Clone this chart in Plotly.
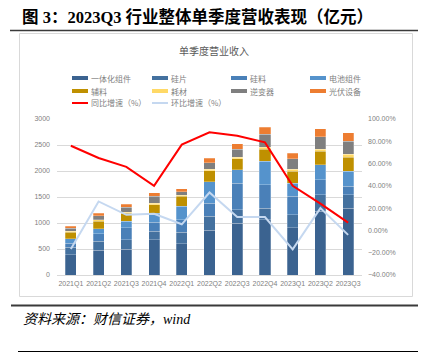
import plotly.graph_objects as go

categories = ["2021Q1", "2021Q2", "2021Q3", "2021Q4", "2022Q1", "2022Q2",
              "2022Q3", "2022Q4", "2023Q1", "2023Q2", "2023Q3"]

yitihua = [390, 473, 500, 679, 602, 858, 1000, 1063, 904, 1223, 1288]
guipian = [148, 173, 179, 160, 218, 269, 256, 225, 256, 321, 256]
guiliao = [77, 148, 225, 173, 243, 257, 513, 449, 352, 289, 160]
dianchi = [83, 96, 127, 180, 257, 410, 256, 448, 257, 288, 288]
fuliao = [122, 148, 161, 160, 192, 212, 206, 238, 223, 256, 270]
haocai = [26, 25, 19, 32, 26, 32, 31, 38, 46, 46, 65]
nibian = [50, 77, 89, 128, 64, 116, 161, 250, 193, 231, 243]
guangfu = [46, 52, 65, 71, 58, 96, 102, 135, 115, 154, 161]

yoy = [0.76, 0.65, 0.57, 0.40, 0.77, 0.88, 0.85, 0.79, 0.40, 0.24, 0.07]
qoq = [-0.167, 0.26, 0.14, 0.15, 0.055, 0.34, 0.12, 0.12, -0.17, 0.20, -0.04]

bar_names = ["一体化组件", "硅片", "硅料", "电池组件", "辅料", "耗材", "逆变器", "光伏设备"]
bar_values = [yitihua, guipian, guiliao, dianchi, fuliao, haocai, nibian, guangfu]
bar_colors = ["#3b6390", "#44719f", "#4a80b8", "#5593cc",
              "#bf9000", "#ffd966", "#7f7f7f", "#ed7d31"]
line_names = ["同比增速（%）", "环比增速（%）"]
line_colors = ["#ff0000", "#c5d8f0"]

W, H = 428, 353
L, R, T, B = 57, 66, 119, 78
fig = go.Figure()
for name, vals, col in zip(bar_names, bar_values, bar_colors):
    fig.add_trace(go.Bar(x=categories, y=vals, name=name, marker_color=col,
                         marker_line_color="rgba(255,255,255,0.5)", marker_line_width=0.5))
for name, vals, col in zip(line_names, [yoy, qoq], line_colors):
    fig.add_trace(go.Scatter(x=categories, y=vals, name=name, mode="lines",
                             line=dict(color=col, width=2), yaxis="y2"))

tick_font = dict(family="Liberation Sans, Noto Sans CJK SC", size=7, color="#7f7f7f")
fig.update_layout(
    width=W, height=H,
    margin=dict(l=L, r=R, t=T, b=B),
    paper_bgcolor="white", plot_bgcolor="white",
    barmode="stack", bargap=0.6,
    showlegend=False,
    xaxis=dict(tickfont=tick_font, showgrid=False, linecolor="#d9d9d9", showline=True,
               ticks="", tickangle=0, ticklabelstandoff=2),
    yaxis=dict(range=[0, 3000], dtick=500, tickfont=tick_font, showgrid=True,
               gridcolor="#d9d9d9", gridwidth=1, zeroline=False, ticks="", showline=False,
               ticklabelstandoff=6),
    yaxis2=dict(range=[-0.4, 1.0], dtick=0.2, tickformat=".2%", overlaying="y", side="right",
                tickfont=tick_font, showgrid=False, zeroline=False, ticks="", showline=False,
                ticklabelstandoff=5),
)

def px(x): return (x - L) / (W - L - R)
def py(y): return (H - B - y) / (H - B - T)

shapes = [
    dict(type="line", xref="paper", yref="paper", x0=px(10), x1=px(418), y0=py(30.5), y1=py(30.5),
         line=dict(color="#3a3a3a", width=1.5)),
    dict(type="rect", xref="paper", yref="paper", x0=px(19.5), x1=px(412.5), y0=py(33.5), y1=py(296.5),
         line=dict(color="#d9d9d9", width=1)),
    dict(type="line", xref="paper", yref="paper", x0=px(11), x1=px(418), y0=py(305.5), y1=py(305.5),
         line=dict(color="#3a3a3a", width=2)),
    dict(type="line", xref="paper", yref="paper", x0=px(18), x1=px(418), y0=py(351.5), y1=py(351.5),
         line=dict(color="#000000", width=1)),
]

# manual legend (4 columns x 3 rows)
col_x = [72, 152, 231, 310]
row_y = [78, 91, 103]
legend_items = [(n, c, "bar") for n, c in zip(bar_names, bar_colors)] + \
               [(n, c, "line") for n, c in zip(line_names, line_colors)]
for i, (name, col, kind) in enumerate(legend_items):
    x0 = col_x[i % 4]
    y0 = row_y[i // 4]
    if kind == "bar":
        shapes.append(dict(type="rect", xref="paper", yref="paper",
                           x0=px(x0), x1=px(x0 + 16), y0=py(y0 + 2), y1=py(y0 - 2),
                           fillcolor=col, line=dict(width=0)))
    else:
        shapes.append(dict(type="line", xref="paper", yref="paper",
                           x0=px(x0), x1=px(x0 + 16), y0=py(y0), y1=py(y0),
                           line=dict(color=col, width=2)))
    fig.add_annotation(text=name, xref="paper", yref="paper", x=px(x0 + 17), y=py(y0),
                       xanchor="left", yanchor="middle", showarrow=False,
                       font=dict(family="Noto Sans CJK SC", size=8, color="#7f7f7f"))
fig.update_layout(shapes=shapes)

fig.add_annotation(text="<b>图 3：2023Q3 行业整体单季度营收表现（亿元）</b>", xref="paper", yref="paper",
                   x=px(20), y=py(17), xanchor="left", yanchor="middle", showarrow=False,
                   font=dict(family="Liberation Serif, Noto Sans CJK SC", size=16.5, color="#000000"))
fig.add_annotation(text="单季度营业收入", xref="paper", yref="paper",
                   x=px(214), y=py(50), xanchor="center", yanchor="middle", showarrow=False,
                   font=dict(family="Noto Sans CJK SC", size=10, color="#595959"))
fig.add_annotation(text="<i>资料来源：财信证券，wind</i>", xref="paper", yref="paper",
                   x=px(21), y=py(319), xanchor="left", yanchor="middle", showarrow=False,
                   font=dict(family="Liberation Serif, Noto Sans CJK SC", size=14, color="#000000"))

fig.write_html("out.html")
